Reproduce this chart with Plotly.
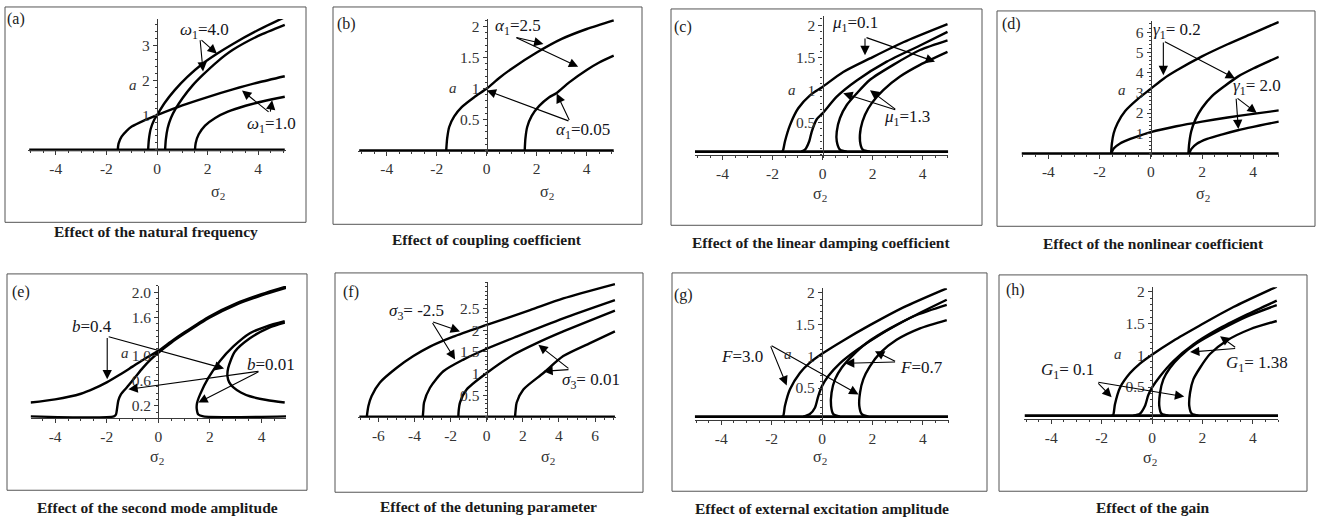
import plotly.graph_objects as go

W, H = 1317, 523

# ---------------- DATA (sigma_2, a) ----------------
# (a) natural frequency
a_base_s = [-5.05, 5.05]
a_base_a = [0, 0]
a_w1_10_left_s = [-1.55, -1.52, -1.4, -1.2, -1.0, -0.5, 0, 1, 2, 3, 4, 5.05]
a_w1_10_left_a = [0, 0.18, 0.38, 0.55, 0.67, 0.85, 1.0, 1.28, 1.52, 1.74, 1.94, 2.12]
a_w1_10_right_s = [1.5, 1.53, 1.65, 1.9, 2.3, 2.8, 3.5, 4.2, 5.05]
a_w1_10_right_a = [0, 0.2, 0.45, 0.7, 0.92, 1.1, 1.27, 1.4, 1.53]
a_w1_40_left_s = [-0.35, -0.32, -0.25, -0.1, 0, 0.3, 0.7, 1.2, 1.8, 2.4, 3, 4, 5.05]
a_w1_40_left_a = [0, 0.3, 0.6, 0.88, 1.0, 1.35, 1.72, 2.1, 2.48, 2.78, 3.05, 3.45, 3.82]
a_w1_40_right_s = [0.32, 0.35, 0.42, 0.55, 0.75, 1.0, 1.4, 1.8, 2.4, 3, 4, 5.05]
a_w1_40_right_a = [0, 0.3, 0.62, 0.92, 1.2, 1.48, 1.85, 2.15, 2.55, 2.88, 3.28, 3.6]

# (b) coupling coefficient
b_base_s = [-5.1, 5.08]
b_base_a = [0, 0]
b_left_s = [-1.62, -1.58, -1.5, -1.3, -1.0, -0.5, 0, 0.5, 1, 2, 3, 4, 5.08]
b_left_a = [0, 0.2, 0.38, 0.55, 0.7, 0.86, 1.0, 1.17, 1.32, 1.58, 1.8, 1.96, 2.1]
b_right_s = [1.52, 1.55, 1.62, 1.8, 2.1, 2.5, 2.8, 3.3, 4, 4.5, 5.08]
b_right_a = [0, 0.2, 0.38, 0.56, 0.72, 0.86, 0.93, 1.1, 1.3, 1.42, 1.53]

# (c) linear damping
c_base_s = [-5.1, 5.03]
c_base_a = [0.05, 0.05]
c_1_s = [-1.6, -1.57, -1.5, -1.3, -0.97, -0.5, 0, 0.83, 1.9, 3.23, 5.0]
c_1_a = [0.05, 0.08, 0.21, 0.46, 0.72, 0.92, 1.05, 1.28, 1.49, 1.74, 2.02]
c_2_s = [-0.85, -0.7, -0.53, -0.43, -0.23, 0, 0.57, 1.37, 2.57, 3.9, 5.0]
c_2_a = [0.05, 0.08, 0.21, 0.36, 0.55, 0.64, 0.9, 1.15, 1.44, 1.69, 1.9]
c_3_s = [0.97, 0.7, 0.57, 0.57, 0.7, 0.97, 1.37, 1.9, 2.83, 3.9, 5.0]
c_3_a = [0.05, 0.08, 0.21, 0.36, 0.57, 0.77, 0.95, 1.16, 1.39, 1.62, 1.77]
c_4_s = [1.9, 1.61, 1.5, 1.53, 1.7, 1.97, 2.43, 3.1, 3.9, 5.0]
c_4_a = [0.05, 0.08, 0.21, 0.41, 0.62, 0.8, 1.0, 1.21, 1.39, 1.59]

# (d) nonlinear coefficient
d_base_s = [-5.05, 5.0]
d_base_a = [0, 0]
d_steep_left_s = [-1.55, -1.52, -1.45, -1.3, -1.0, -0.5, 0, 0.5, 1, 2, 3, 4, 5.0]
d_steep_left_a = [0, 0.5, 1.0, 1.5, 2.1, 2.7, 3.2, 3.7, 4.1, 4.8, 5.4, 5.95, 6.5]
d_steep_right_s = [1.47, 1.5, 1.58, 1.75, 2.0, 2.4, 2.9, 3.4, 4, 5.0]
d_steep_right_a = [0, 0.5, 1.1, 1.7, 2.25, 2.85, 3.35, 3.8, 4.2, 4.78]
d_flat_left_s = [-1.55, -1.45, -1.2, -0.8, -0.4, 0, 1, 2, 3, 4, 5.0]
d_flat_left_a = [0, 0.25, 0.5, 0.72, 0.9, 1.06, 1.35, 1.58, 1.78, 1.96, 2.13]
d_flat_right_s = [1.5, 1.58, 1.8, 2.2, 2.8, 3.4, 4, 4.5, 5.0]
d_flat_right_a = [0, 0.22, 0.48, 0.72, 0.95, 1.15, 1.32, 1.45, 1.58]

# (e) second mode amplitude
e_b04_s = [-4.95, -4, -3, -2.5, -2, -1.5, -1, -0.5, 0, 0.5, 1, 2, 3, 4, 4.95]
e_b04_a = [0.25, 0.3, 0.39, 0.47, 0.57, 0.69, 0.82, 0.95, 1.07, 1.22, 1.36, 1.62, 1.82, 1.97, 2.09]
e_b001_left_s = [-4.95, -1.72, -1.64, -1.6, -1.55, -1.45, -1.2, -0.9, -0.6, -0.3, 0, 0.5, 1, 2, 3, 4, 4.95]
e_b001_left_a = [0.03, 0.03, 0.06, 0.15, 0.28, 0.38, 0.5, 0.65, 0.8, 0.93, 1.04, 1.2, 1.34, 1.6, 1.8, 1.95, 2.07]
e_b001_outer_s = [4.95, 1.75, 1.55, 1.49, 1.5, 1.62, 1.94, 2.39, 2.91, 3.55, 4.2, 4.9]
e_b001_outer_a = [0.03, 0.03, 0.06, 0.15, 0.24, 0.38, 0.64, 0.91, 1.14, 1.35, 1.46, 1.54]
e_b001_inner_s = [4.9, 4.3, 3.55, 2.97, 2.71, 2.68, 2.75, 2.91, 3.2, 3.55, 4.2, 4.9]
e_b001_inner_a = [1.52, 1.44, 1.27, 1.06, 0.8, 0.67, 0.57, 0.49, 0.41, 0.35, 0.29, 0.25]

# (f) detuning parameter
f_base_s = [-7.05, 7.1]
f_base_a = [0, 0]
f_1_s = [-6.64, -6.55, -6.37, -5.91, -4.98, -4.06, -3.14, -1.85, 0, 2.4, 4.24, 7.1]
f_1_a = [0, 0.25, 0.48, 0.79, 1.13, 1.4, 1.62, 1.85, 2.12, 2.46, 2.73, 3.06]
f_2_s = [-3.54, -3.51, -3.47, -3.14, -2.4, -1.29, 0, 1.66, 4.24, 7.1]
f_2_a = [0, 0.15, 0.33, 0.67, 1.05, 1.32, 1.57, 1.85, 2.27, 2.69]
f_3_s = [-1.57, -1.55, -1.48, -1.11, 0, 1.48, 2.77, 4.24, 7.1]
f_3_a = [0, 0.15, 0.33, 0.63, 1.01, 1.43, 1.7, 1.97, 2.45]
f_4_s = [1.57, 1.6, 1.66, 2.03, 3.14, 4.24, 5.72, 7.1]
f_4_a = [0, 0.15, 0.33, 0.63, 1.01, 1.4, 1.7, 1.97]

# (g) external excitation amplitude
g_base_s = [-5.05, 5.0]
g_base_a = [0.05, 0.05]
g_1_s = [-1.6, -1.54, -1.47, -1.27, -0.87, -0.48, 0, 0.85, 1.9, 3.23, 4.95]
g_1_a = [0.05, 0.06, 0.22, 0.48, 0.74, 0.9, 1.04, 1.25, 1.49, 1.77, 2.07]
g_2_s = [-0.74, -0.48, -0.28, -0.15, 0, 0.25, 0.71, 1.38, 2.3, 3.62, 4.95]
g_2_a = [0.05, 0.09, 0.19, 0.37, 0.53, 0.69, 0.89, 1.1, 1.34, 1.63, 1.89]
g_3_s = [0.71, 0.45, 0.36, 0.38, 0.52, 0.78, 1.18, 1.77, 2.7, 3.76, 4.95]
g_3_a = [0.05, 0.09, 0.22, 0.43, 0.64, 0.82, 1.0, 1.21, 1.44, 1.65, 1.81]
g_4_s = [1.84, 1.58, 1.48, 1.51, 1.64, 1.9, 2.3, 2.96, 3.89, 4.95]
g_4_a = [0.05, 0.09, 0.22, 0.43, 0.64, 0.84, 1.05, 1.26, 1.44, 1.57]

# (h) gain
h_base_s = [-5.05, 5.0]
h_base_a = [0.05, 0.05]
h_1_s = [-1.6, -1.54, -1.47, -1.27, -0.87, -0.48, 0, 0.85, 1.9, 3.23, 4.95]
h_1_a = [0.05, 0.06, 0.23, 0.49, 0.72, 0.87, 1.01, 1.23, 1.47, 1.76, 2.08]
h_2_s = [-0.74, -0.48, -0.28, -0.15, 0, 0.32, 0.85, 1.64, 2.57, 3.76, 4.95]
h_2_a = [0.05, 0.08, 0.2, 0.37, 0.49, 0.67, 0.91, 1.17, 1.4, 1.64, 1.86]
h_3_s = [0.65, 0.38, 0.29, 0.32, 0.45, 0.71, 1.11, 1.77, 2.7, 3.76, 4.95]
h_3_a = [0.05, 0.08, 0.2, 0.41, 0.62, 0.8, 0.98, 1.19, 1.4, 1.61, 1.79]
h_4_s = [1.84, 1.58, 1.48, 1.51, 1.64, 1.9, 2.3, 2.96, 3.89, 4.95]
h_4_a = [0.05, 0.08, 0.2, 0.41, 0.62, 0.8, 1.02, 1.23, 1.41, 1.54]

# tick values
a_xticks = [-4, -2, 0, 2, 4]
a_yticks = [1, 2, 3]
b_yticks = [0.5, 1, 1.5, 2]
d_yticks = [1, 2, 3, 4, 5, 6]
e_yticks = [0.2, 0.6, 1.0, 1.6, 2.0]
e_ytext = ["0.2", "0.6", "1.0", "1.6", "2.0"]
f_xticks = [-6, -4, -2, 0, 2, 4, 6]
f_yticks = [0.5, 1, 1.5, 2, 2.5]

captions = ["Effect of the natural frequency", "Effect of coupling coefficient",
            "Effect of the linear damping coefficient", "Effect of the nonlinear coefficient",
            "Effect of the second mode amplitude", "Effect of the detuning parameter",
            "Effect of external excitation amplitude", "Effect of the gain"]

# ---------------- LAYOUT / GEOMETRY (pixels) ----------------
PANELS = [
    dict(key='a', s0=157, sx=25.3, a0=147, sy=35, xr=(-5.1, 5.1), yr=(-0.09, 3.77),
         xt=a_xticks, yt=a_yticks, ytt=None, xm=0.5, ym=0.2,
         curves=[(a_w1_10_left_s, a_w1_10_left_a), (a_w1_10_right_s, a_w1_10_right_a),
                 (a_w1_40_left_s, a_w1_40_left_a), (a_w1_40_right_s, a_w1_40_right_a)],
         base=(a_base_s, a_base_a),
         box=(5, 3, 306, 220), cap=(156, 229), letter=(16, 15),
         alab=(133, 82), slab=(218, 190),
         labels=[("<i>ω</i><sub>1</sub>=4.0", 204, 27), ("<i>ω</i><sub>1</sub>=1.0", 271, 122)],
         arrows=[(1.70, 3.2, 2.37, 2.77), (1.70, 3.2, 1.82, 2.26),
                 (4.47, 1.06, 3.36, 1.71), (4.47, 1.06, 4.55, 1.43)]),
    dict(key='b', s0=486.7, sx=25, a0=147.7, sy=62.5, xr=(-5.15, 5.1), yr=(-0.05, 2.12),
         xt=a_xticks, yt=b_yticks, ytt=None, xm=0.5, ym=0.1,
         curves=[(b_left_s, b_left_a), (b_right_s, b_right_a)],
         base=(b_base_s, b_base_a),
         box=(333, 3, 642, 222), cap=(487, 237), letter=(346, 20),
         alab=(453, 85), slab=(547, 190),
         labels=[("<i>α</i><sub>1</sub>=2.5", 518, 23), ("<i>α</i><sub>1</sub>=0.05", 583, 128)],
         arrows=[(1.13, 1.83, 2.27, 1.72), (1.13, 1.83, 3.66, 1.35),
                 (3.33, 0.47, 0.0, 0.97), (3.33, 0.47, 2.8, 0.92)]),
    dict(key='c', s0=822.5, sx=25, a0=152, sy=65.2, xr=(-5.1, 5.03), yr=(-0.05, 2.15),
         xt=a_xticks, yt=b_yticks, ytt=None, xm=0.5, ym=0.1,
         curves=[(c_1_s, c_1_a), (c_2_s, c_2_a), (c_3_s, c_3_a), (c_4_s, c_4_a)],
         base=(c_base_s, c_base_a),
         box=(671, 5, 982, 223), cap=(821, 240), letter=(683, 23),
         alab=(792, 87), slab=(820, 192),
         labels=[("<i>μ</i><sub>1</sub>=0.1", 855, 20), ("<i>μ</i><sub>1</sub>=1.3", 907, 115)],
         arrows=[(1.7, 1.82, 1.7, 1.54), (1.7, 1.82, 4.5, 1.44),
                 (2.97, 0.69, 0.83, 0.95), (2.97, 0.69, 1.9, 1.0)]),
    dict(key='d', s0=1150.8, sx=25.6, a0=150.7, sy=20.4, xr=(-5.05, 5.0), yr=(-0.15, 6.55),
         xt=a_xticks, yt=d_yticks, ytt=None, xm=0.5, ym=0.2,
         curves=[(d_steep_left_s, d_steep_left_a), (d_steep_right_s, d_steep_right_a),
                 (d_flat_left_s, d_flat_left_a), (d_flat_right_s, d_flat_right_a)],
         base=(d_base_s, d_base_a),
         box=(997, 7, 1315, 224), cap=(1153, 241), letter=(1011, 20),
         alab=(1122, 87), slab=(1203, 192),
         labels=[("<i>γ</i><sub>1</sub>= 0.2", 1177, 27), ("<i>γ</i><sub>1</sub>= 2.0", 1257, 84)],
         arrows=[(0.49, 5.56, 0.49, 3.87), (0.49, 5.56, 3.29, 3.71),
                 (3.33, 2.78, 4.14, 2.0), (3.33, 2.78, 3.42, 1.21)]),
    dict(key='e', s0=158.3, sx=25.8, a0=417.5, sy=63.5, xr=(-4.95, 4.95), yr=(-0.05, 2.1),
         xt=a_xticks, yt=e_yticks, ytt=e_ytext, xm=0.5, ym=0.1,
         curves=[(e_b04_s, e_b04_a), (e_b001_left_s, e_b001_left_a),
                 (e_b001_outer_s, e_b001_outer_a), (e_b001_inner_s, e_b001_inner_a)],
         base=None,
         box=(7, 272, 307, 490), cap=(157, 507), letter=(21, 290),
         alab=(125, 352), slab=(157, 457),
         labels=[("<i>b</i>=0.4", 92, 325), ("<i>b</i>=0.01", 271, 363)],
         arrows=[(-1.98, 1.30, -1.98, 0.62), (-1.98, 1.30, 2.55, 0.79),
                 (3.94, 0.75, -1.16, 0.46), (3.94, 0.75, 1.55, 0.25)]),
    dict(key='f', s0=486.7, sx=18.06, a0=416, sy=43.7, xr=(-7.1, 7.15), yr=(-0.07, 3.1),
         xt=f_xticks, yt=f_yticks, ytt=None, xm=0.5, ym=0.1,
         curves=[(f_1_s, f_1_a), (f_2_s, f_2_a), (f_3_s, f_3_a), (f_4_s, f_4_a)],
         base=(f_base_s, f_base_a),
         box=(335, 271, 643, 492), cap=(488, 506), letter=(351, 290),
         alab=None, slab=(548, 457),
         labels=[("<i>σ</i><sub>3</sub>= -2.5", 416, 310), ("<i>σ</i><sub>3</sub>= 0.01", 591, 380)],
         arrows=[(-3.05, 2.2, -1.48, 1.97), (-3.05, 2.2, -1.75, 1.32),
                 (4.61, 1.09, 2.86, 1.66), (4.61, 1.09, 3.14, 1.05)]),
    dict(key='g', s0=822, sx=25.2, a0=419, sy=64, xr=(-5.05, 5.02), yr=(-0.05, 2.07),
         xt=a_xticks, yt=b_yticks, ytt=None, xm=0.5, ym=0.1,
         curves=[(g_1_s, g_1_a), (g_2_s, g_2_a), (g_3_s, g_3_a), (g_4_s, g_4_a)],
         base=(g_base_s, g_base_a),
         box=(672, 271, 987, 491), cap=(822, 508), letter=(683, 293),
         alab=(788, 353), slab=(820, 457),
         labels=[("<i>F</i>=3.0", 742, 355), ("<i>F</i>=0.7", 921, 366)],
         arrows=[(-2.06, 1.18, -1.4, 0.54), (-2.06, 1.18, 1.45, 0.40),
                 (2.96, 0.91, 0.91, 0.89), (2.96, 0.91, 2.1, 1.08)]),
    dict(key='h', s0=1152, sx=25.2, a0=418, sy=64, xr=(-5.08, 5.01), yr=(-0.05, 2.07),
         xt=a_xticks, yt=b_yticks, ytt=None, xm=0.5, ym=0.1,
         curves=[(h_1_s, h_1_a), (h_2_s, h_2_a), (h_3_s, h_3_a), (h_4_s, h_4_a)],
         base=(h_base_s, h_base_a),
         box=(999, 273, 1307, 491), cap=(1153, 507), letter=(1015, 288),
         alab=(1118, 353), slab=(1150, 458),
         labels=[("<i>G</i><sub>1</sub>= 0.1", 1067, 370), ("<i>G</i><sub>1</sub>= 1.38", 1257, 363)],
         arrows=[(-2.19, 0.58, -1.6, 0.34), (-2.19, 0.58, 1.28, 0.35),
                 (3.36, 1.11, 1.51, 1.05), (3.36, 1.11, 2.7, 1.30)]),
]

SERIF = "Liberation Serif"
AXC = "#3a3a3a"
TICKFONT = dict(family=SERIF, size=15.5, color="#333")


def PX(x):
    return x / W


def PY(y):
    return 1 - y / H


def fmt(v):
    if float(v).is_integer():
        return str(int(v))
    return str(v)


fig = go.Figure()
axes = {}
annotations = []
shapes = []

for i, p in enumerate(PANELS):
    n = i + 1
    xname = 'xaxis' if n == 1 else f'xaxis{n}'
    yname = 'yaxis' if n == 1 else f'yaxis{n}'
    xref = 'x' if n == 1 else f'x{n}'
    yref = 'y' if n == 1 else f'y{n}'

    xl = p['s0'] + p['sx'] * p['xr'][0]
    xh = p['s0'] + p['sx'] * p['xr'][1]
    yb = p['a0'] - p['sy'] * p['yr'][0]
    yt = p['a0'] - p['sy'] * p['yr'][1]

    axes[xname] = dict(
        domain=[PX(xl), PX(xh)], range=list(p['xr']), anchor='free', position=PY(p['a0']),
        showline=True, linecolor=AXC, linewidth=1.3, ticks='outside', ticklen=4,
        tickcolor=AXC, tickwidth=1, tickmode='array', tickvals=p['xt'],
        ticktext=[fmt(v) for v in p['xt']], tickfont=TICKFONT, showgrid=False,
        zeroline=False, fixedrange=True,
        minor=dict(tickmode='linear', tick0=0, dtick=p['xm'], ticklen=2, ticks='outside',
                   tickcolor=AXC, showgrid=False))
    axes[yname] = dict(
        domain=[PY(yb), PY(yt)], range=list(p['yr']), anchor='free', position=PX(p['s0']),
        showline=True, linecolor=AXC, linewidth=1.3, ticks='outside', ticklen=4,
        tickcolor=AXC, tickwidth=1, tickmode='array', tickvals=p['yt'],
        ticktext=p['ytt'] if p['ytt'] else [fmt(v) for v in p['yt']],
        tickfont=TICKFONT, showgrid=False, zeroline=False, fixedrange=True,
        minor=dict(tickmode='linear', tick0=0, dtick=p['ym'], ticklen=2, ticks='outside',
                   tickcolor=AXC, showgrid=False))

    if p['base'] is not None:
        fig.add_trace(go.Scatter(x=p['base'][0], y=p['base'][1], mode='lines',
                                 line=dict(color='black', width=2.6),
                                 xaxis=xref, yaxis=yref, showlegend=False, hoverinfo='skip'))
    for s, a in p['curves']:
        fig.add_trace(go.Scatter(x=s, y=a, mode='lines',
                                 line=dict(color='black', width=2.4, shape='spline', smoothing=0.7),
                                 xaxis=xref, yaxis=yref, showlegend=False, hoverinfo='skip'))

    # arrows
    for ts, ta, hs, ha in p['arrows']:
        annotations.append(dict(x=hs, y=ha, xref=xref, yref=yref, ax=ts, ay=ta,
                                axref=xref, ayref=yref, text='', showarrow=True,
                                arrowhead=2, arrowsize=1.7, arrowwidth=1.1,
                                arrowcolor='black', standoff=0, startstandoff=0))
    # value labels
    for txt, cx, cy in p['labels']:
        annotations.append(dict(x=PX(cx), y=PY(cy), xref='paper', yref='paper', text=txt,
                                showarrow=False, xanchor='center', yanchor='middle',
                                font=dict(family=SERIF, size=17, color='#141420')))
    # panel letter
    lx, ly = p['letter']
    annotations.append(dict(x=PX(lx), y=PY(ly), xref='paper', yref='paper',
                            text=f"({p['key']})", showarrow=False, xanchor='center',
                            yanchor='middle', font=dict(family=SERIF, size=16, color='#222')))
    # axis titles
    if p['alab']:
        annotations.append(dict(x=PX(p['alab'][0]), y=PY(p['alab'][1]), xref='paper', yref='paper',
                                text="<i>a</i>", showarrow=False, xanchor='center',
                                yanchor='middle', font=dict(family=SERIF, size=15, color='#333')))
    annotations.append(dict(x=PX(p['slab'][0]), y=PY(p['slab'][1]), xref='paper', yref='paper',
                            text="σ<sub>2</sub>", showarrow=False, xanchor='center',
                            yanchor='middle', font=dict(family=SERIF, size=16, color='#333')))
    # caption
    annotations.append(dict(x=PX(p['cap'][0]), y=PY(p['cap'][1]), xref='paper', yref='paper',
                            text=f"<b>{captions[i]}</b>", showarrow=False, xanchor='center',
                            yanchor='middle', font=dict(family=SERIF, size=15.5, color='#1a1a1a')))
    # border
    bx0, by0, bx1, by1 = p['box']
    shapes.append(dict(type='rect', xref='paper', yref='paper', x0=PX(bx0), x1=PX(bx1),
                       y0=PY(by1), y1=PY(by0), line=dict(color='#555', width=1)))

fig.update_layout(width=W, height=H, margin=dict(l=0, r=0, t=0, b=0),
                  paper_bgcolor='white', plot_bgcolor='rgba(0,0,0,0)',
                  annotations=annotations, shapes=shapes, **axes)

fig.write_html("out.html")
